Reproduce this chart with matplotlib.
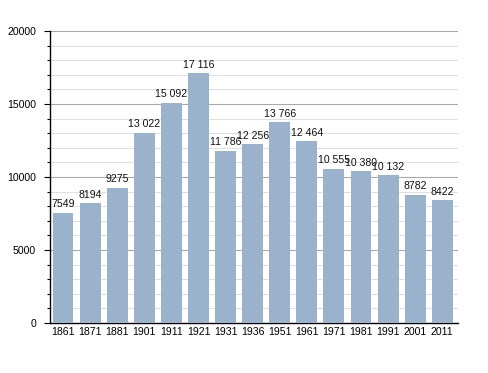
import numpy as np
import matplotlib
matplotlib.use('Agg')
import matplotlib.pyplot as plt
from matplotlib.ticker import MultipleLocator

years = ['1861', '1871', '1881', '1901', '1911', '1921', '1931', '1936',
         '1951', '1961', '1971', '1981', '1991', '2001', '2011']
population = [7549, 8194, 9275, 13022, 15092, 17116, 11786, 12256,
              13766, 12464, 10555, 10380, 10132, 8782, 8422]

plt.rcParams['font.family'] = ['Liberation Sans', 'DejaVu Sans']


def fmt(v):
    # space as thousands separator, like the original labels
    if v >= 10000:
        return '{:,}'.format(v).replace(',', ' ')
    return str(v)


fig = plt.figure(figsize=(4.88, 3.73), dpi=100)
ax = fig.add_axes([0.1025, 0.134, 0.836, 0.783])

x = np.arange(len(years))
ax.bar(x, population, width=0.77, color='#9ab2cc', zorder=3)
for xi, v in zip(x, population):
    ax.annotate(fmt(v), (xi, v), xytext=(0, 2.5), textcoords='offset points',
                ha='center', va='bottom', fontsize=7.6, color='#111111', zorder=4)

ax.set_xlim(-0.48, len(years) - 0.42)
ax.set_ylim(0, 20000)
ax.set_xticks(x)
ax.set_xticklabels(years, fontsize=7.6)
ax.tick_params(axis='x', length=0, pad=3)
ax.yaxis.set_major_locator(MultipleLocator(5000))
ax.yaxis.set_minor_locator(MultipleLocator(1000))
ax.tick_params(axis='y', which='major', labelsize=7.6, length=4, width=0.8, pad=6)
ax.tick_params(axis='y', which='minor', length=2.5, width=0.8)
ax.grid(axis='y', which='major', color='#a8a8a8', linewidth=0.8, zorder=1)
ax.grid(axis='y', which='minor', color='#e0e0e0', linewidth=0.8, zorder=1)

for s in ['top', 'right']:
    ax.spines[s].set_visible(False)
ax.spines['left'].set_linewidth(1.0)
ax.spines['bottom'].set_linewidth(1.0)

fig.savefig('out.png', dpi=100)
